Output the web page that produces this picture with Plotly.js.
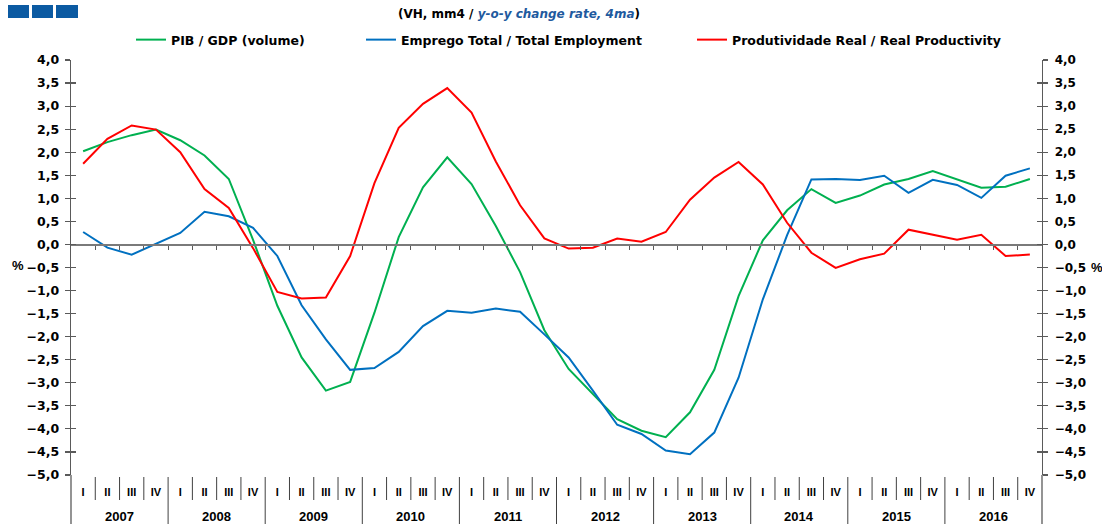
<!DOCTYPE html>
<html>
<head>
<meta charset="utf-8">
<script src="https://cdn.plot.ly/plotly-3.0.1.min.js"></script>
<style>
html,body{margin:0;padding:0;background:#fff;}
#chart{width:1102px;height:524px;}
</style>
</head>
<body>
<div id="chart"></div>
<script>
// ---- data ----
const years = ['2007','2008','2009','2010','2011','2012','2013','2014','2015','2016'];
const quarterNames = ['I','II','III','IV'];
const gdp = [2.02,2.22,2.37,2.49,2.26,1.93,1.42,0.10,-1.33,-2.45,-3.17,-2.98,-1.48,0.16,1.24,1.89,1.31,0.40,-0.60,-1.86,-2.70,-3.25,-3.79,-4.04,-4.18,-3.64,-2.72,-1.12,0.09,0.74,1.20,0.90,1.06,1.30,1.42,1.59,1.41,1.23,1.25,1.42];
const employment = [0.27,-0.07,-0.22,0.01,0.25,0.71,0.61,0.36,-0.25,-1.32,-2.06,-2.72,-2.68,-2.33,-1.77,-1.44,-1.48,-1.39,-1.46,-1.95,-2.45,-3.17,-3.91,-4.11,-4.47,-4.55,-4.08,-2.89,-1.19,0.20,1.41,1.42,1.40,1.49,1.12,1.40,1.29,1.01,1.49,1.65];
const productivity = [1.75,2.29,2.58,2.49,2.00,1.20,0.79,-0.08,-1.03,-1.17,-1.15,-0.25,1.33,2.53,3.05,3.39,2.86,1.80,0.85,0.13,-0.09,-0.07,0.13,0.06,0.27,0.97,1.45,1.79,1.30,0.47,-0.18,-0.51,-0.32,-0.20,0.32,0.21,0.10,0.21,-0.25,-0.22];
const seriesNames = ['PIB / GDP (volume)','Emprego Total / Total Employment','Produtividade Real / Real Productivity'];

// ---- derived ----
const idx = gdp.map((_, i) => i);
const qLabels = idx.map(i => quarterNames[i % 4]);
const nCat = idx.length;

const W = 1102, H = 524, L = 71, R = 1042, T = 60, B = 475;
const px = x => (x - L) / (R - L);
const py = y => (B - y) / (B - T);

const FONT = 'Liberation Sans, Arial, sans-serif';
const WIDE = 'DejaVu Sans, Liberation Sans, sans-serif';
const AX = '#5a5a5a';

const traces = [
  {x: idx, y: gdp, name: seriesNames[0], mode: 'lines', line: {color: '#00B050', width: 2}, legend: 'legend'},
  {x: idx, y: employment, name: seriesNames[1], mode: 'lines', line: {color: '#0070C0', width: 2}, legend: 'legend2'},
  {x: idx, y: productivity, name: seriesNames[2], mode: 'lines', line: {color: '#FF0000', width: 2}, legend: 'legend3'},
  {x: [null], y: [null], xaxis: 'x2', yaxis: 'y', showlegend: false, hoverinfo: 'skip'},
  {x: [null], y: [null], xaxis: 'x', yaxis: 'y2', showlegend: false, hoverinfo: 'skip'},
  {x: [null], y: [null], xaxis: 'x', yaxis: 'y3', showlegend: false, hoverinfo: 'skip'},
  {x: [null], y: [null], xaxis: 'x', yaxis: 'y4', showlegend: false, hoverinfo: 'skip'}
];

const shapes = [];
// logo squares
[[8,29],[32,53],[56,78]].forEach(([a,b]) => {
  shapes.push({type:'rect', xref:'paper', yref:'paper', x0:px(a), x1:px(b), y0:py(18), y1:py(5), fillcolor:'#0B5AA2', line:{width:0}});
});
// axis extensions below plot
shapes.push({type:'line', xref:'paper', yref:'paper', x0:0, x1:0, y0:0, y1:py(524), line:{color:AX, width:1.3}});
shapes.push({type:'line', xref:'paper', yref:'paper', x0:1, x1:1, y0:0, y1:py(524), line:{color:AX, width:1.3}});
// category separators
for (let k = 1; k < nCat; k++) {
  const isYear = k % 4 === 0;
  shapes.push({type:'line', xref:'paper', yref:'paper', x0:k/nCat, x1:k/nCat, y0:py(477), y1: isYear ? py(524) : py(500), line:{color:'#404040', width:1}});
}

const annotations = years.map((yr, j) => ({
  x: 4*j + 1.5, xref: 'x', y: py(516), yref: 'paper', text: yr, showarrow: false,
  xanchor: 'center', yanchor: 'middle', font: {family: FONT, size: 13, weight: 'bold', color: '#000'}
}));
annotations.push({x: px(18), xref:'paper', y: py(265), yref:'paper', text:'%', showarrow:false, xanchor:'center', yanchor:'middle', font:{family:FONT, size:13, weight:'bold', color:'#000'}});
annotations.push({x: px(1089), xref:'paper', y: py(267), yref:'paper', text:'%', showarrow:false, xanchor:'left', yanchor:'middle', font:{family:FONT, size:13, weight:'bold', color:'#000'}});

const yBase = {range: [-5, 4], tickvals: [-5,-4.5,-4,-3.5,-3,-2.5,-2,-1.5,-1,-0.5,0,0.5,1,1.5,2,2.5,3,3.5,4], tickformat: '.1f',
  showgrid: false, zeroline: false, ticklen: 5, tickcolor: AX, tickwidth: 1.2, fixedrange: true};

const legendCommon = {orientation: 'h', yref: 'paper', y: py(40), yanchor: 'middle', xanchor: 'left',
  font: {family: WIDE, size: 12.5, weight: 'bold', color: '#000'}, bgcolor: 'rgba(0,0,0,0)', borderwidth: 0};

const layout = {
  width: W, height: H,
  margin: {l: L, r: W - R, t: T, b: H - B, pad: 0},
  paper_bgcolor: '#fff', plot_bgcolor: '#fff',
  separators: ', ',
  font: {family: FONT, color: '#000'},
  title: {
    text: "(VH, mm4 / <i><span style='color:#1F5A9E'>y-o-y change rate, 4ma</span></i>)",
    xref: 'container', yref: 'container', x: 519 / W, xanchor: 'center', y: 1 - 14 / H, yanchor: 'middle',
    font: {family: WIDE, size: 12, weight: 'bold', color: '#000'}
  },
  legend: Object.assign({}, legendCommon, {x: px(131)}),
  legend2: Object.assign({}, legendCommon, {x: px(361)}),
  legend3: Object.assign({}, legendCommon, {x: px(692)}),
  xaxis: {range: [-0.5, nCat - 0.5], tickvals: idx, ticktext: qLabels, ticks: '', showline: false, showgrid: false, zeroline: false,
    tickfont: {family: FONT, size: 11, weight: 'bold', color: '#000'}, ticklabelstandoff: 9, fixedrange: true},
  xaxis2: {overlaying: 'x', anchor: 'free', position: 5/9, range: [-0.5, nCat - 0.5], tickvals: idx.slice(0, -1).map(i => i + 0.5),
    showticklabels: false, ticks: 'outside', ticklen: 4, tickcolor: AX, tickwidth: 1, showline: true, linecolor: '#7a7a7a', linewidth: 1.8,
    showgrid: false, zeroline: false, fixedrange: true},
  yaxis: Object.assign({}, yBase, {side: 'left', ticks: 'outside', showline: true, linecolor: AX, linewidth: 1.3,
    tickfont: {family: WIDE, size: 12.5, weight: 'bold', color: '#000'}, ticklabelstandoff: 3}),
  yaxis2: Object.assign({}, yBase, {side: 'right', overlaying: 'y', anchor: 'x', ticks: 'outside', showline: true, linecolor: AX, linewidth: 1.3,
    tickfont: {family: WIDE, size: 12, weight: 'bold', color: '#000'}, ticklabelstandoff: 4}),
  yaxis3: Object.assign({}, yBase, {side: 'left', overlaying: 'y', anchor: 'x', ticks: 'inside', showticklabels: false, showline: false}),
  yaxis4: Object.assign({}, yBase, {side: 'right', overlaying: 'y', anchor: 'x', ticks: 'inside', showticklabels: false, showline: false}),
  shapes: shapes,
  annotations: annotations,
  hovermode: false
};

Plotly.newPlot('chart', traces, layout, {staticPlot: true, displayModeBar: false});
</script>
</body>
</html>
